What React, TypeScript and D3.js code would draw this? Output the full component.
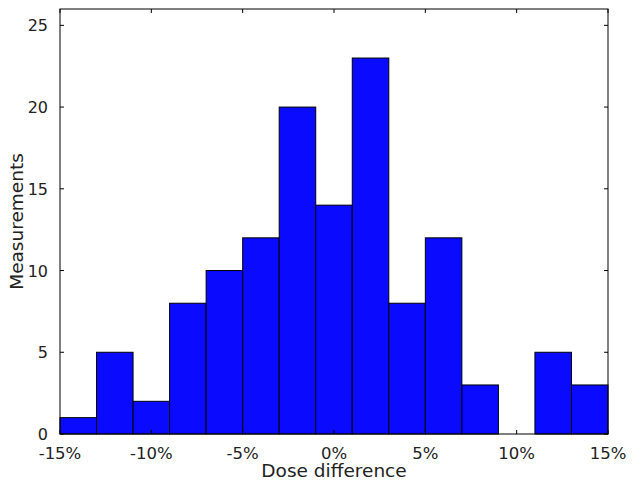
import React from "react";
import * as d3 from "d3";

const binEdges = [-15, -13, -11, -9, -7, -5, -3, -1, 1, 3, 5, 7, 9, 11, 13, 15];
const counts = [1, 5, 2, 8, 10, 12, 20, 14, 23, 8, 12, 3, 0, 5, 3];
const xTicks = [-15, -10, -5, 0, 5, 10, 15];
const yTicks = [0, 5, 10, 15, 20, 25];

const W = 632, H = 485;
const M = { left: 60, right: 24, top: 9, bottom: 51 };

export default function App() {
  const x = d3.scaleLinear().domain([-15, 15]).range([M.left, W - M.right]);
  const y = d3.scaleLinear().domain([0, 26]).range([H - M.bottom, M.top]);
  const font = "DejaVu Sans, sans-serif";
  const x0 = M.left, x1 = W - M.right, y0 = H - M.bottom, y1 = M.top;
  return (
    <svg width={W} height={H} style={{ position: "absolute", left: 0, top: 0 }}>
      <rect width={W} height={H} fill="white" />
      {counts.map((c, i) => (
        <rect key={i}
          x={x(binEdges[i])} width={x(binEdges[i + 1]) - x(binEdges[i])}
          y={y(c)} height={y(0) - y(c)}
          fill="#0a0aff" stroke="#000" strokeWidth={1} />
      ))}
      {xTicks.map(t => (
        <g key={"x" + t}>
          <line x1={x(t)} x2={x(t)} y1={y0} y2={y0 - 4} stroke="#000" />
          <line x1={x(t)} x2={x(t)} y1={y1} y2={y1 + 4} stroke="#000" />
          <text x={x(t)} y={y0 + 25} textAnchor="middle" fontFamily={font} fontSize={16.5} fill="#222">{t + "%"}</text>
        </g>
      ))}
      {yTicks.map(t => (
        <g key={"y" + t}>
          <line x1={x0} x2={x0 + 4} y1={y(t)} y2={y(t)} stroke="#000" />
          <line x1={x1} x2={x1 - 4} y1={y(t)} y2={y(t)} stroke="#000" />
          <text x={x0 - 12} y={y(t) + 6} textAnchor="end" fontFamily={font} fontSize={16} fill="#222">{t}</text>
        </g>
      ))}
      <rect x={x0} y={y1} width={x1 - x0} height={y0 - y1} fill="none" stroke="#000" strokeWidth={1} />
      <text x={(x0 + x1) / 2} y={477} textAnchor="middle" fontFamily={font} fontSize={18.5} fill="#222">Dose difference</text>
      <text transform={`translate(23,${(y0 + y1) / 2}) rotate(-90)`} textAnchor="middle" fontFamily={font} fontSize={18.5} fill="#222">Measurements</text>
    </svg>
  );
}
